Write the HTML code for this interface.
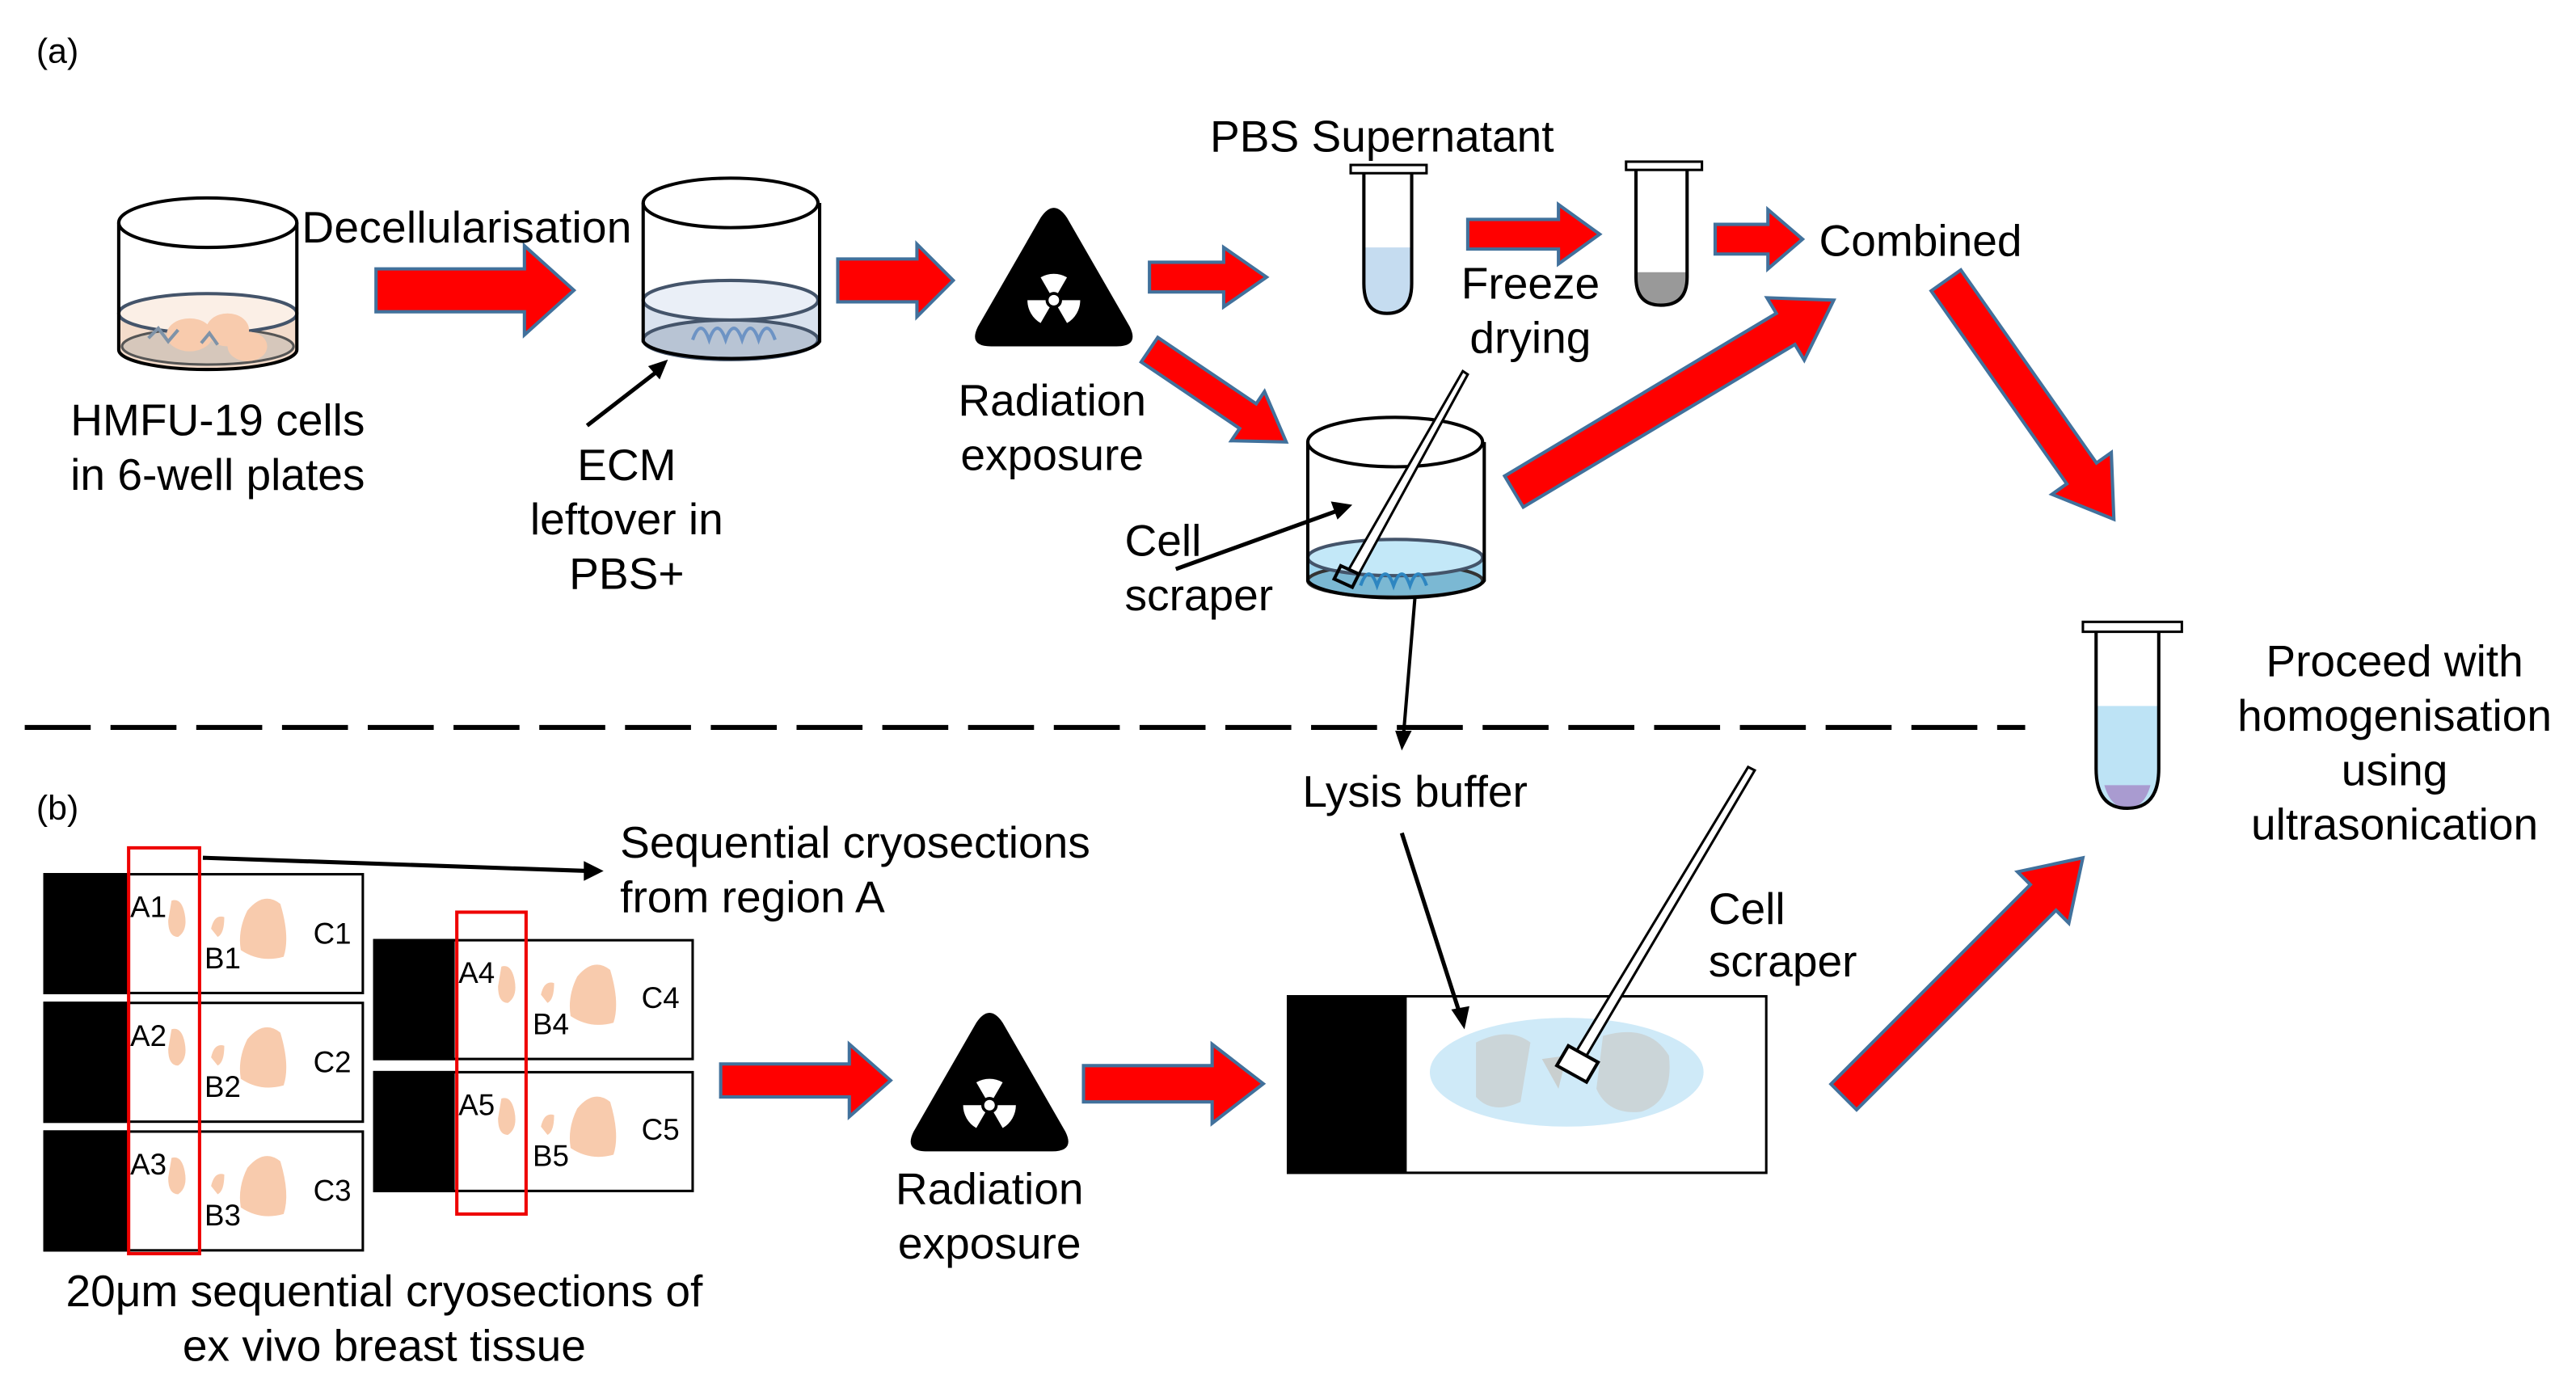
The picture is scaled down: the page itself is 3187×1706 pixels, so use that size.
<!DOCTYPE html>
<html><head><meta charset="utf-8"><style>
html,body{margin:0;padding:0;background:#fff;width:3187px;height:1706px;overflow:hidden}
svg{display:block}
text{font-family:"Liberation Sans",Arial,sans-serif;fill:#000}
</style></head><body>
<svg width="3187" height="1706" viewBox="0 0 1562 836" preserveAspectRatio="none" xmlns="http://www.w3.org/2000/svg">
<defs>
<g id="rad">
<path d="M-8,-36 Q0,-48 8,-36 L46,30 Q52,42 38,42 L-38,42 Q-52,42 -46,30 Z" fill="#000"/>
<g transform="translate(0,14)" fill="#fff">
<circle r="3.2"/>
<path d="M-2.5,-4.33 L-8,-13.86 A16,16 0 0 1 8,-13.86 L2.5,-4.33 A5,5 0 0 0 -2.5,-4.33Z"/>
<path d="M5,0 L16,0 A16,16 0 0 1 8,13.86 L2.5,4.33 A5,5 0 0 0 5,0Z"/>
<path d="M-2.5,4.33 L-8,13.86 A16,16 0 0 1 -16,0 L-5,0 A5,5 0 0 0 -2.5,4.33Z"/>
</g>
</g>
<g id="tis">
<path d="M-2,-12 Q4,-14 6,-4 Q8,6 2,10 Q-4,10 -4,0 Z" fill="#f8cbad"/>
<path d="M22,5 Q24,-4 30,-2 Q30,8 26,10 Z" fill="#f8cbad"/>
<path d="M44,-6 Q54,-18 64,-10 Q70,10 66,22 Q52,26 40,18 Q38,6 44,-6Z" fill="#f8cbad"/>
</g>
</defs>
<g stroke="#41719c" stroke-width="2" fill="#f00">
<polygon points="228,163 318,163 318,149 348,176 318,203 318,189 228,189"/>
<polygon points="508,157 556,157 556,148 578,170 556,192 556,183 508,183"/>
<polygon points="697,159 742,159 742,150 768,168 742,186 742,177 697,177"/>
<polygon points="890,133 945,133 945,124 970,142 945,160 945,151 890,151"/>
<polygon points="1040,136 1072,136 1072,127 1093,145 1072,163 1072,154 1040,154"/>
<polygon points="437,645 515,645 515,633 540,655 515,677 515,665 437,665"/>
<polygon points="657,646 735,646 735,633 766,657 735,681 735,668 657,668"/>
<g transform="translate(697,212) rotate(34)"><polygon points="0,-9 72,-9 72,-18 100,0 72,18 72,9 0,9"/></g>
<g transform="translate(918,298) rotate(-30.9)"><polygon points="0,-11 192,-11 192,-22 226,0 192,22 192,11 0,11"/></g>
<g transform="translate(1180,170) rotate(54.9)"><polygon points="0,-11 143,-11 143,-22 177,0 143,22 143,11 0,11"/></g>
<g transform="translate(1118,665) rotate(-45)"><polygon points="0,-11 171,-11 171,-22 205,0 171,22 171,11 0,11"/></g>
</g>
<text x="22" y="38" font-size="21">(a)</text>
<text x="22" y="497" font-size="21">(b)</text>
<!-- dish1 -->
<path d="M72,190 L72,212 A54,12 0 0 0 180,212 L180,190 Z" fill="#f4dccb"/>
<ellipse cx="126" cy="210" rx="52" ry="11" fill="#d6c7bb" stroke="#555" stroke-width="1.5"/>
<ellipse cx="126" cy="190" rx="54" ry="12" fill="#fbefe6" stroke="#44546a" stroke-width="2"/>
<ellipse cx="115" cy="203" rx="14" ry="10" fill="#f8cbad"/><ellipse cx="138" cy="200" rx="13" ry="10" fill="#f8cbad"/><ellipse cx="150" cy="210" rx="12" ry="9" fill="#f8cbad"/>
<path d="M90,205 l6,-6 l6,8 l6,-7 M122,208 l5,-6 l5,7" stroke="#7f93a8" stroke-width="2" fill="none"/>
<path d="M72,135 L72,212 A54,12 0 0 0 180,212 L180,135" fill="none" stroke="#000" stroke-width="2"/>
<ellipse cx="126" cy="135" rx="54" ry="15" fill="none" stroke="#000" stroke-width="2"/>
<g font-size="27">
<text x="183" y="147" textLength="200">Decellularisation</text>
<text x="132" y="264" text-anchor="middle">HMFU-19 cells</text>
<text x="132" y="297" text-anchor="middle">in 6-well plates</text>
</g>
<!-- dish2 -->
<path d="M390,182 L390,207 A54,12 0 0 0 497,207 L497,182Z" fill="#d9e2ee"/>
<ellipse cx="443" cy="206" rx="53" ry="12" fill="#b8c4d4" stroke="#44546a" stroke-width="2"/>
<ellipse cx="443" cy="182" rx="53" ry="12" fill="#eaeff7" stroke="#44546a" stroke-width="2"/>
<path d="M420,206 q5,-14 10,0 q5,-14 10,0 q5,-14 10,0 q5,-14 10,0 q5,-14 10,0" stroke="#6d93c4" stroke-width="2" fill="none"/>
<path d="M390,123 L390,207 A54,12 0 0 0 497,207 L497,123" fill="none" stroke="#000" stroke-width="2"/>
<ellipse cx="443" cy="123" rx="53" ry="15" fill="none" stroke="#000" stroke-width="2"/>
<line x1="356" y1="258" x2="400" y2="224" stroke="#000" stroke-width="2.5"/>
<polygon points="405,218 393,222 400,230" fill="#000"/>
<g font-size="27" text-anchor="middle">
<text x="380" y="291">ECM</text>
<text x="380" y="324">leftover in</text>
<text x="380" y="357">PBS+</text>
<text x="638" y="252">Radiation</text>
<text x="638" y="285">exposure</text>
<text x="600" y="730">Radiation</text>
<text x="600" y="763">exposure</text>
<text x="838" y="92">PBS Supernatant</text>
<text x="928" y="181">Freeze</text>
<text x="928" y="214">drying</text>
<text x="1452" y="410">Proceed with</text>
<text x="1452" y="443">homogenisation</text>
<text x="1452" y="476">using</text>
<text x="1452" y="509">ultrasonication</text>
<text x="858" y="489">Lysis buffer</text>
<text x="233" y="792">20μm sequential cryosections of</text>
<text x="233" y="825">ex vivo breast tissue</text>
</g>
<use href="#rad" x="639" y="168"/>
<use href="#rad" x="600" y="656"/>
<!-- tubes -->
<path d="M827,150 L856,150 L856,172 Q856,190 841,190 Q827,190 827,172Z" fill="#c5dcf0"/>
<path d="M827,105 L827,172 Q827,190 841,190 Q856,190 856,172 L856,105" fill="none" stroke="#000" stroke-width="2"/>
<rect x="819" y="100" width="46" height="5" fill="#fff" stroke="#000" stroke-width="1.5"/>
<path d="M992,165 L1023,165 L1023,168 Q1023,185 1007,185 Q992,185 992,168Z" fill="#999"/>
<path d="M992,103 L992,168 Q992,185 1007,185 Q1023,185 1023,168 L1023,103" fill="none" stroke="#000" stroke-width="2"/>
<rect x="986" y="98" width="46" height="5" fill="#fff" stroke="#000" stroke-width="1.5"/>
<text x="1103" y="155" font-size="27">Combined</text>
<path d="M1271,428 L1309,428 L1309,466 Q1309,490 1290,490 Q1271,490 1271,466Z" fill="#bde3f5"/>
<path d="M1276,476 L1304,476 Q1300,490 1290,490 Q1280,490 1276,476Z" fill="#a99bd0"/>
<path d="M1271,383 L1271,466 Q1271,490 1290,490 Q1309,490 1309,466 L1309,383" fill="none" stroke="#000" stroke-width="2"/>
<rect x="1263" y="377" width="60" height="6" fill="#fff" stroke="#000" stroke-width="1.5"/>
<!-- dish3 -->
<path d="M793,340 L793,352 A54,12 0 0 0 900,352 L900,340Z" fill="#9fd6ef"/>
<ellipse cx="846" cy="352" rx="53" ry="10" fill="#7bb8d3" stroke="#333" stroke-width="2"/>
<ellipse cx="846" cy="338" rx="53" ry="11" fill="#c3e8f8" stroke="#44546a" stroke-width="2"/>
<path d="M825,355 q5,-14 10,0 q5,-14 10,0 q5,-14 10,0 q5,-14 10,0" stroke="#2e86c1" stroke-width="2" fill="none"/>
<path d="M793,268 L793,352 A54,12 0 0 0 900,352 L900,268" fill="none" stroke="#000" stroke-width="2"/>
<ellipse cx="846" cy="268" rx="53" ry="15" fill="none" stroke="#000" stroke-width="2"/>
<polygon points="887,225 890,227 824,348 818,345" fill="#fff" stroke="#000" stroke-width="1.5"/>
<polygon points="813,343 824,348 820,356 809,351" fill="none" stroke="#000" stroke-width="2"/>
<line x1="713" y1="345" x2="810" y2="310" stroke="#000" stroke-width="2.5"/>
<polygon points="820,306 807,304 811,315" fill="#000"/>
<text x="682" y="337" font-size="27">Cell</text>
<text x="682" y="370" font-size="27">scraper</text>
<line x1="858" y1="362" x2="851" y2="446" stroke="#000" stroke-width="2"/>
<polygon points="850,455 846,443 856,443" fill="#000"/>
<line x1="15" y1="441" x2="1228" y2="441" stroke="#000" stroke-width="3" stroke-dasharray="40,12"/>
<!-- slides -->
<g stroke="#000" stroke-width="1.5">
<rect x="27" y="530" width="193" height="72" fill="#fff"/><rect x="27" y="530" width="50" height="72" fill="#000"/>
<rect x="27" y="608" width="193" height="72" fill="#fff"/><rect x="27" y="608" width="50" height="72" fill="#000"/>
<rect x="27" y="686" width="193" height="72" fill="#fff"/><rect x="27" y="686" width="50" height="72" fill="#000"/>
<rect x="227" y="570" width="193" height="72" fill="#fff"/><rect x="227" y="570" width="48" height="72" fill="#000"/>
<rect x="227" y="650" width="193" height="72" fill="#fff"/><rect x="227" y="650" width="48" height="72" fill="#000"/>
</g>
<use href="#tis" x="106" y="558"/><use href="#tis" x="106" y="636"/><use href="#tis" x="106" y="714"/>
<use href="#tis" x="306" y="598"/><use href="#tis" x="306" y="678"/>
<g font-size="18">
<text x="79" y="556">A1</text><text x="124" y="587">B1</text><text x="190" y="572">C1</text>
<text x="79" y="634">A2</text><text x="124" y="665">B2</text><text x="190" y="650">C2</text>
<text x="79" y="712">A3</text><text x="124" y="743">B3</text><text x="190" y="728">C3</text>
<text x="278" y="596">A4</text><text x="323" y="627">B4</text><text x="389" y="611">C4</text>
<text x="278" y="676">A5</text><text x="323" y="707">B5</text><text x="389" y="691">C5</text>
</g>
<rect x="78" y="514" width="43" height="246" fill="none" stroke="#e00" stroke-width="2"/>
<rect x="277" y="553" width="42" height="183" fill="none" stroke="#e00" stroke-width="2"/>
<line x1="123" y1="520" x2="356" y2="528" stroke="#000" stroke-width="2.5"/>
<polygon points="366,528 354,522 354,534" fill="#000"/>
<text x="376" y="520" font-size="27">Sequential cryosections</text>
<text x="376" y="553" font-size="27">from region A</text>
<!-- big slide -->
<rect x="781" y="604" width="290" height="107" fill="#fff" stroke="#000" stroke-width="1.5"/>
<rect x="781" y="604" width="72" height="107" fill="#000"/>
<ellipse cx="950" cy="650" rx="83" ry="33" fill="#cfeaf8"/>
<path d="M895,632 Q915,622 928,632 L922,668 Q905,676 895,665Z" fill="#c9cfcf" opacity="0.8"/>
<path d="M935,642 L950,640 L945,660 Z" fill="#c9cfcf"/>
<path d="M972,628 Q1000,620 1012,640 Q1015,668 995,674 Q975,676 968,660Z" fill="#c9cfcf" opacity="0.8"/>
<line x1="850" y1="505" x2="885" y2="614" stroke="#000" stroke-width="2.5"/>
<polygon points="888,624 880,612 891,610" fill="#000"/>
<polygon points="1060,465 1064,467 962,640 956,637" fill="#fff" stroke="#000" stroke-width="1.5"/>
<polygon points="951,634 969,644 962,656 944,646" fill="#fff" stroke="#000" stroke-width="2"/>
<text x="1036" y="560" font-size="27">Cell</text>
<text x="1036" y="592" font-size="27">scraper</text>
</svg>
</body></html>
